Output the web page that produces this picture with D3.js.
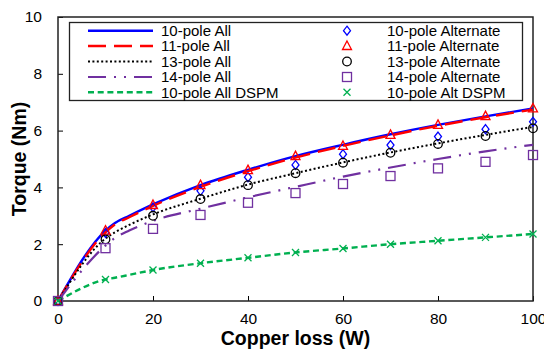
<!DOCTYPE html>
<html lang="en">
<head>
<meta charset="UTF-8"/>
<title>Torque vs copper loss</title>
<script src="https://d3js.org/d3.v7.min.js"></script>
<style>
    body { margin: 0; background: #fff; }
    text { font-family: "Liberation Sans", Arial, sans-serif; }
</style>
</head>
<body>
<script>
    var w = 544;
    var h = 350;
    var margin = { top: 17, right: 11, bottom: 49, left: 58 };

    // line series (copper loss W -> torque Nm)
    var lineLoss = [0, 10, 12, 15, 20, 30, 40, 50, 60, 70, 80, 90, 100];
    var pole10All = [0, 2.48, 2.75, 3.0, 3.4, 4.08, 4.62, 5.1, 5.5, 5.87, 6.2, 6.5, 6.78];
    var pole11All = [0, 2.42, 2.7, 2.95, 3.35, 4.02, 4.57, 5.05, 5.46, 5.83, 6.17, 6.47, 6.74];
    var pole13All = [0, 2.2, 2.42, 2.68, 3.05, 3.6, 4.1, 4.5, 4.88, 5.23, 5.55, 5.85, 6.13];
    var pole14All = [0, 1.95, 2.22, 2.48, 2.82, 3.25, 3.65, 4.02, 4.38, 4.7, 5.0, 5.27, 5.5];
    var pole10Dspm = [0, 0.76, 0.82, 0.92, 1.09, 1.33, 1.52, 1.71, 1.85, 2.0, 2.12, 2.24, 2.36];

    // marker series
    var markLoss = [0, 10, 20, 30, 40, 50, 60, 70, 80, 90, 100];
    var pole10Alt = [0, 2.4, 3.3, 3.88, 4.36, 4.79, 5.17, 5.49, 5.79, 6.05, 6.31];
    var pole11Alt = [0, 2.48, 3.38, 4.08, 4.61, 5.1, 5.46, 5.85, 6.2, 6.51, 6.78];
    var pole13Alt = [0, 2.17, 3.0, 3.59, 4.08, 4.5, 4.87, 5.22, 5.53, 5.81, 6.08];
    var pole14Alt = [0, 1.86, 2.54, 3.03, 3.46, 3.8, 4.12, 4.4, 4.67, 4.9, 5.14];
    var pole10AltDspm = [0, 0.76, 1.09, 1.33, 1.52, 1.71, 1.85, 2.0, 2.12, 2.24, 2.36];

    var xTicks = [0, 20, 40, 60, 80, 100];
    var yTicks = [0, 2, 4, 6, 8, 10];

    var lines = [
        { name: "10-pole All", values: pole10All, color: "#0000ff", dash: null, width: 2.4 },
        { name: "11-pole All", values: pole11All, color: "#ff0000", dash: "18,8", width: 2.4 },
        { name: "13-pole All", values: pole13All, color: "#000000", dash: "2,2.4", width: 2 },
        { name: "14-pole All", values: pole14All, color: "#7030a0", dash: "18,8,2,8,2,8", width: 2.2 },
        { name: "10-pole All DSPM", values: pole10Dspm, color: "#00b050", dash: "6,3.7", width: 2.4 }
    ];

    var marks = [
        { name: "10-pole Alternate", values: pole10Alt, color: "#0000ff", shape: "diamond" },
        { name: "11-pole Alternate", values: pole11Alt, color: "#ff0000", shape: "triangle" },
        { name: "13-pole Alternate", values: pole13Alt, color: "#000000", shape: "circle" },
        { name: "14-pole Alternate", values: pole14Alt, color: "#7030a0", shape: "square" },
        { name: "10-pole Alt DSPM", values: pole10AltDspm, color: "#00b050", shape: "cross" }
    ];

    var xScale = d3.scaleLinear().domain([0, 100]).range([margin.left, w - margin.right]);
    var yScale = d3.scaleLinear().domain([0, 10]).range([h - margin.bottom, margin.top]);

    var svg = d3.select("body").append("svg")
        .attr("width", w)
        .attr("height", h);

    // axes with inward ticks
    svg.append("g")
        .attr("transform", "translate(0," + (h - margin.bottom) + ")")
        .call(d3.axisBottom(xScale).tickValues(xTicks).tickSizeInner(-5).tickSizeOuter(0).tickPadding(12))
        .call(function(g) {
            g.select(".domain").remove();
            g.selectAll("line").attr("stroke", "#000");
            g.selectAll("text").attr("font-size", "15.5px").attr("fill", "#000");
        });

    svg.append("g")
        .attr("transform", "translate(" + margin.left + ",0)")
        .call(d3.axisLeft(yScale).tickValues(yTicks).tickSizeInner(-5).tickSizeOuter(0).tickPadding(16))
        .call(function(g) {
            g.select(".domain").remove();
            g.selectAll("line").attr("stroke", "#000");
            g.selectAll("text").attr("font-size", "15.5px").attr("fill", "#000");
        });

    // frame
    svg.append("rect")
        .attr("x", margin.left)
        .attr("y", margin.top)
        .attr("width", w - margin.left - margin.right)
        .attr("height", h - margin.top - margin.bottom)
        .attr("fill", "none")
        .attr("stroke", "#222")
        .attr("stroke-width", 1.5);

    var line = d3.line()
        .x(function(d, i) { return xScale(lineLoss[i]); })
        .y(function(d) { return yScale(d); })
        .curve(d3.curveMonotoneX);

    svg.selectAll("path.series")
        .data(lines)
        .enter()
        .append("path")
        .attr("class", "series")
        .attr("d", function(d) { return line(d.values); })
        .attr("fill", "none")
        .attr("stroke", function(d) { return d.color; })
        .attr("stroke-width", function(d) { return d.width; })
        .attr("stroke-dasharray", function(d) { return d.dash; });

    function drawMarker(g, shape, color) {
        if (shape === "diamond") {
            g.append("path").attr("d", "M0,-4.5L3.5,0L0,4.5L-3.5,0Z");
        } else if (shape === "triangle") {
            g.append("path").attr("d", "M0,-5L4.5,3.5L-4.5,3.5Z");
        } else if (shape === "circle") {
            g.append("circle").attr("r", 4.3);
        } else if (shape === "square") {
            g.append("rect").attr("x", -4.5).attr("y", -4.5).attr("width", 9).attr("height", 9);
        } else {
            g.append("path").attr("d", "M-3.5,-3.5L3.5,3.5M-3.5,3.5L3.5,-3.5");
        }
        g.selectAll("*")
            .attr("fill", "none")
            .attr("stroke", color)
            .attr("stroke-width", 1.3);
    }

    marks.forEach(function(m) {
        svg.selectAll(null)
            .data(m.values)
            .enter()
            .append("g")
            .attr("transform", function(d, i) {
                return "translate(" + xScale(markLoss[i]) + "," + yScale(d) + ")";
            })
            .each(function() { drawMarker(d3.select(this), m.shape, m.color); });
    });

    // legend
    var legend = svg.append("g");
    legend.append("rect")
        .attr("x", 69.5)
        .attr("y", 22.5)
        .attr("width", 453)
        .attr("height", 78)
        .attr("fill", "#fff")
        .attr("stroke", "#222")
        .attr("stroke-width", 1.3);

    var rowY = [30.7, 46, 61.5, 77, 92.3];

    lines.forEach(function(d, i) {
        legend.append("line")
            .attr("x1", 88).attr("x2", 153)
            .attr("y1", rowY[i]).attr("y2", rowY[i])
            .attr("stroke", d.color)
            .attr("stroke-width", d.width)
            .attr("stroke-dasharray", d.dash);
        legend.append("text")
            .attr("x", 161)
            .attr("y", rowY[i])
            .attr("dy", "0.35em")
            .attr("font-size", "15px")
            .text(d.name);
    });

    marks.forEach(function(d, i) {
        var g = legend.append("g").attr("transform", "translate(347," + rowY[i] + ")");
        drawMarker(g, d.shape, d.color);
        legend.append("text")
            .attr("x", 387)
            .attr("y", rowY[i])
            .attr("dy", "0.35em")
            .attr("font-size", "15px")
            .text(d.name);
    });

    // axis titles
    svg.append("text")
        .attr("x", (margin.left + w - margin.right) / 2)
        .attr("y", 345)
        .attr("text-anchor", "middle")
        .attr("font-size", "19.5px")
        .attr("font-weight", "bold")
        .text("Copper loss (W)");

    svg.append("text")
        .attr("transform", "translate(26," + ((margin.top + h - margin.bottom) / 2) + ") rotate(-90)")
        .attr("text-anchor", "middle")
        .attr("font-size", "19.5px")
        .attr("font-weight", "bold")
        .text("Torque (Nm)");
</script>
</body>
</html>
